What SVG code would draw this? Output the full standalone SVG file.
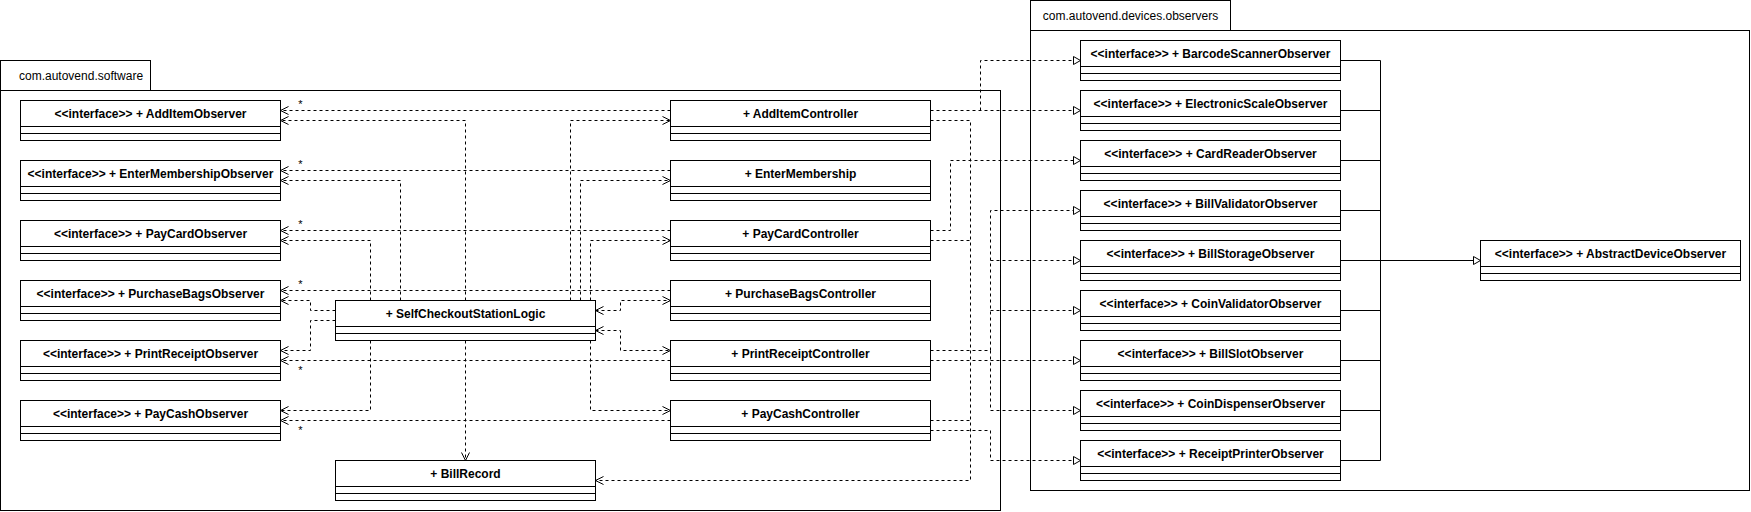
<svg xmlns="http://www.w3.org/2000/svg" width="1751" height="512" viewBox="0 0 1751 512">
<style>
.pkg{fill:#fff;stroke:#000;stroke-width:1}
.box{fill:#fff;stroke:#000;stroke-width:1}
.sep{stroke:#000;stroke-width:1}
.dep{fill:none;stroke:#000;stroke-width:1;stroke-dasharray:3 3}
.gen{fill:none;stroke:#000;stroke-width:1}
.t{font-family:"Liberation Sans",Arial,sans-serif;font-size:12px;font-weight:bold;fill:#000;text-anchor:middle}
.pt{font-family:"Liberation Sans",Arial,sans-serif;font-size:12px;fill:#000}
.m{font-family:"Liberation Sans",Arial,sans-serif;font-size:11px;fill:#000;text-anchor:middle}
</style>
<defs>
<marker id="open" viewBox="-9 -5 10 10" refX="0" refY="0" markerWidth="10" markerHeight="10" markerUnits="userSpaceOnUse" orient="auto-start-reverse"><path d="M-8,-4 L0,0 L-8,4" fill="none" stroke="#000" stroke-width="1"/></marker>
<marker id="tri" viewBox="-9 -5 10 10" refX="0" refY="0" markerWidth="10" markerHeight="10" markerUnits="userSpaceOnUse" orient="auto"><path d="M-7,-4 L0,0 L-7,4 Z" fill="#fff" stroke="#000" stroke-width="1"/></marker>
</defs>

<g id="pkg-software">
<rect class="pkg" x="0.5" y="60.5" width="150" height="30"/>
<rect class="pkg" x="0.5" y="90.5" width="1000" height="420"/>
<text class="pt" x="19" y="80">com.autovend.software</text>
</g>
<g id="pkg-devices">
<rect class="pkg" x="1030.5" y="0.5" width="200" height="30"/>
<rect class="pkg" x="1030.5" y="30.5" width="719" height="460"/>
<text class="pt" x="1130.5" y="19.5" text-anchor="middle">com.autovend.devices.observers</text>
</g>

<g id="connectors">
<!-- software dependencies -->
<path class="dep" d="M670.5,110.5 H280.5" marker-end="url(#open)"/>
<path class="dep" d="M465.5,300.5 V120.5 H280.5" marker-end="url(#open)"/>
<path class="dep" d="M570.5,300.5 V120.5 H670.5" marker-end="url(#open)"/>
<path class="dep" d="M670.5,170.5 H280.5" marker-end="url(#open)"/>
<path class="dep" d="M400.5,300.5 V180.5 H280.5" marker-end="url(#open)"/>
<path class="dep" d="M580.5,300.5 V180.5 H670.5" marker-end="url(#open)"/>
<path class="dep" d="M670.5,230.5 H280.5" marker-end="url(#open)"/>
<path class="dep" d="M370.5,300.5 V240.5 H280.5" marker-end="url(#open)"/>
<path class="dep" d="M590.5,300.5 V240.5 H670.5" marker-end="url(#open)"/>
<path class="dep" d="M670.5,290.5 H280.5" marker-end="url(#open)"/>
<path class="dep" d="M335.5,310.5 H310.5 V300.5 H280.5" marker-end="url(#open)"/>
<path class="dep" d="M595.5,310.5 H620.5 V300.5 H670.5" marker-start="url(#open)" marker-end="url(#open)"/>
<path class="dep" d="M335.5,320.5 H310.5 V350.5 H280.5" marker-end="url(#open)"/>
<path class="dep" d="M670.5,360.5 H280.5" marker-end="url(#open)"/>
<path class="dep" d="M595.5,330.5 H620.5 V350.5 H670.5" marker-start="url(#open)" marker-end="url(#open)"/>
<path class="dep" d="M370.5,340.5 V410.5 H280.5" marker-end="url(#open)"/>
<path class="dep" d="M670.5,420.5 H280.5" marker-end="url(#open)"/>
<path class="dep" d="M590.5,340.5 V410.5 H670.5" marker-end="url(#open)"/>
<path class="dep" d="M465.5,340.5 V460.5" marker-end="url(#open)"/>
<path class="dep" d="M930.5,120.5 H970.5 V480.5 H595.5" marker-end="url(#open)"/>
<path class="dep" d="M930.5,240.5 H970.5"/>
<path class="dep" d="M930.5,420.5 H970.5"/>
<!-- realizations to device observers -->
<path class="dep" d="M930.5,110.5 H1080.5" marker-end="url(#tri)"/>
<path class="dep" d="M980.5,110.5 V60.5 H1080.5" marker-end="url(#tri)"/>
<path class="dep" d="M930.5,230.5 H950.5 V160.5 H1080.5" marker-end="url(#tri)"/>
<path class="dep" d="M930.5,350.5 H990.5 V210.5 H1080.5" marker-end="url(#tri)"/>
<path class="dep" d="M990.5,260.5 H1080.5" marker-end="url(#tri)"/>
<path class="dep" d="M990.5,310.5 H1080.5" marker-end="url(#tri)"/>
<path class="dep" d="M990.5,350.5 V410.5 H1080.5" marker-end="url(#tri)"/>
<path class="dep" d="M930.5,360.5 H1080.5" marker-end="url(#tri)"/>
<path class="dep" d="M930.5,430.5 H990.5 V460.5 H1080.5" marker-end="url(#tri)"/>
<!-- generalizations -->
<path class="gen" d="M1340.5,60.5 H1380.5 M1340.5,110.5 H1380.5 M1340.5,160.5 H1380.5 M1340.5,210.5 H1380.5 M1340.5,310.5 H1380.5 M1340.5,360.5 H1380.5 M1340.5,410.5 H1380.5 M1340.5,460.5 H1380.5 M1380.5,60.5 V460.5"/>
<path class="gen" d="M1340.5,260.5 H1480.5" marker-end="url(#tri)"/>
<!-- multiplicities -->
<text class="m" x="300.5" y="108">*</text>
<text class="m" x="300.5" y="168">*</text>
<text class="m" x="300.5" y="228">*</text>
<text class="m" x="300.5" y="288">*</text>
<text class="m" x="300.5" y="374">*</text>
<text class="m" x="300.5" y="434">*</text>
</g>

<g id="AddItemObserver"><rect class="box" x="20.5" y="100.5" width="260" height="40"/><path class="sep" d="M20.5,126.5 H280.5 M20.5,133.5 H280.5"/><text class="t" x="150.5" y="118">&lt;&lt;interface&gt;&gt; + AddItemObserver</text></g>
<g id="EnterMembershipObserver"><rect class="box" x="20.5" y="160.5" width="260" height="40"/><path class="sep" d="M20.5,186.5 H280.5 M20.5,193.5 H280.5"/><text class="t" x="150.5" y="178">&lt;&lt;interface&gt;&gt; + EnterMembershipObserver</text></g>
<g id="PayCardObserver"><rect class="box" x="20.5" y="220.5" width="260" height="40"/><path class="sep" d="M20.5,246.5 H280.5 M20.5,253.5 H280.5"/><text class="t" x="150.5" y="238">&lt;&lt;interface&gt;&gt; + PayCardObserver</text></g>
<g id="PurchaseBagsObserver"><rect class="box" x="20.5" y="280.5" width="260" height="40"/><path class="sep" d="M20.5,306.5 H280.5 M20.5,313.5 H280.5"/><text class="t" x="150.5" y="298">&lt;&lt;interface&gt;&gt; + PurchaseBagsObserver</text></g>
<g id="PrintReceiptObserver"><rect class="box" x="20.5" y="340.5" width="260" height="40"/><path class="sep" d="M20.5,366.5 H280.5 M20.5,373.5 H280.5"/><text class="t" x="150.5" y="358">&lt;&lt;interface&gt;&gt; + PrintReceiptObserver</text></g>
<g id="PayCashObserver"><rect class="box" x="20.5" y="400.5" width="260" height="40"/><path class="sep" d="M20.5,426.5 H280.5 M20.5,433.5 H280.5"/><text class="t" x="150.5" y="418">&lt;&lt;interface&gt;&gt; + PayCashObserver</text></g>

<g id="SelfCheckoutStationLogic"><rect class="box" x="335.5" y="300.5" width="260" height="40"/><path class="sep" d="M335.5,326.5 H595.5 M335.5,333.5 H595.5"/><text class="t" x="465.5" y="318">+ SelfCheckoutStationLogic</text></g>
<g id="BillRecord"><rect class="box" x="335.5" y="460.5" width="260" height="40"/><path class="sep" d="M335.5,486.5 H595.5 M335.5,493.5 H595.5"/><text class="t" x="465.5" y="478">+ BillRecord</text></g>

<g id="AddItemController"><rect class="box" x="670.5" y="100.5" width="260" height="40"/><path class="sep" d="M670.5,126.5 H930.5 M670.5,133.5 H930.5"/><text class="t" x="800.5" y="118">+ AddItemController</text></g>
<g id="EnterMembership"><rect class="box" x="670.5" y="160.5" width="260" height="40"/><path class="sep" d="M670.5,186.5 H930.5 M670.5,193.5 H930.5"/><text class="t" x="800.5" y="178">+ EnterMembership</text></g>
<g id="PayCardController"><rect class="box" x="670.5" y="220.5" width="260" height="40"/><path class="sep" d="M670.5,246.5 H930.5 M670.5,253.5 H930.5"/><text class="t" x="800.5" y="238">+ PayCardController</text></g>
<g id="PurchaseBagsController"><rect class="box" x="670.5" y="280.5" width="260" height="40"/><path class="sep" d="M670.5,306.5 H930.5 M670.5,313.5 H930.5"/><text class="t" x="800.5" y="298">+ PurchaseBagsController</text></g>
<g id="PrintReceiptController"><rect class="box" x="670.5" y="340.5" width="260" height="40"/><path class="sep" d="M670.5,366.5 H930.5 M670.5,373.5 H930.5"/><text class="t" x="800.5" y="358">+ PrintReceiptController</text></g>
<g id="PayCashController"><rect class="box" x="670.5" y="400.5" width="260" height="40"/><path class="sep" d="M670.5,426.5 H930.5 M670.5,433.5 H930.5"/><text class="t" x="800.5" y="418">+ PayCashController</text></g>

<g id="BarcodeScannerObserver"><rect class="box" x="1080.5" y="40.5" width="260" height="40"/><path class="sep" d="M1080.5,66.5 H1340.5 M1080.5,73.5 H1340.5"/><text class="t" x="1210.5" y="58">&lt;&lt;interface&gt;&gt; + BarcodeScannerObserver</text></g>
<g id="ElectronicScaleObserver"><rect class="box" x="1080.5" y="90.5" width="260" height="40"/><path class="sep" d="M1080.5,116.5 H1340.5 M1080.5,123.5 H1340.5"/><text class="t" x="1210.5" y="108">&lt;&lt;interface&gt;&gt; + ElectronicScaleObserver</text></g>
<g id="CardReaderObserver"><rect class="box" x="1080.5" y="140.5" width="260" height="40"/><path class="sep" d="M1080.5,166.5 H1340.5 M1080.5,173.5 H1340.5"/><text class="t" x="1210.5" y="158">&lt;&lt;interface&gt;&gt; + CardReaderObserver</text></g>
<g id="BillValidatorObserver"><rect class="box" x="1080.5" y="190.5" width="260" height="40"/><path class="sep" d="M1080.5,216.5 H1340.5 M1080.5,223.5 H1340.5"/><text class="t" x="1210.5" y="208">&lt;&lt;interface&gt;&gt; + BillValidatorObserver</text></g>
<g id="BillStorageObserver"><rect class="box" x="1080.5" y="240.5" width="260" height="40"/><path class="sep" d="M1080.5,266.5 H1340.5 M1080.5,273.5 H1340.5"/><text class="t" x="1210.5" y="258">&lt;&lt;interface&gt;&gt; + BillStorageObserver</text></g>
<g id="CoinValidatorObserver"><rect class="box" x="1080.5" y="290.5" width="260" height="40"/><path class="sep" d="M1080.5,316.5 H1340.5 M1080.5,323.5 H1340.5"/><text class="t" x="1210.5" y="308">&lt;&lt;interface&gt;&gt; + CoinValidatorObserver</text></g>
<g id="BillSlotObserver"><rect class="box" x="1080.5" y="340.5" width="260" height="40"/><path class="sep" d="M1080.5,366.5 H1340.5 M1080.5,373.5 H1340.5"/><text class="t" x="1210.5" y="358">&lt;&lt;interface&gt;&gt; + BillSlotObserver</text></g>
<g id="CoinDispenserObserver"><rect class="box" x="1080.5" y="390.5" width="260" height="40"/><path class="sep" d="M1080.5,416.5 H1340.5 M1080.5,423.5 H1340.5"/><text class="t" x="1210.5" y="408">&lt;&lt;interface&gt;&gt; + CoinDispenserObserver</text></g>
<g id="ReceiptPrinterObserver"><rect class="box" x="1080.5" y="440.5" width="260" height="40"/><path class="sep" d="M1080.5,466.5 H1340.5 M1080.5,473.5 H1340.5"/><text class="t" x="1210.5" y="458">&lt;&lt;interface&gt;&gt; + ReceiptPrinterObserver</text></g>

<g id="AbstractDeviceObserver"><rect class="box" x="1480.5" y="240.5" width="260" height="40"/><path class="sep" d="M1480.5,266.5 H1740.5 M1480.5,273.5 H1740.5"/><text class="t" x="1610.5" y="258">&lt;&lt;interface&gt;&gt; + AbstractDeviceObserver</text></g>
</svg>
